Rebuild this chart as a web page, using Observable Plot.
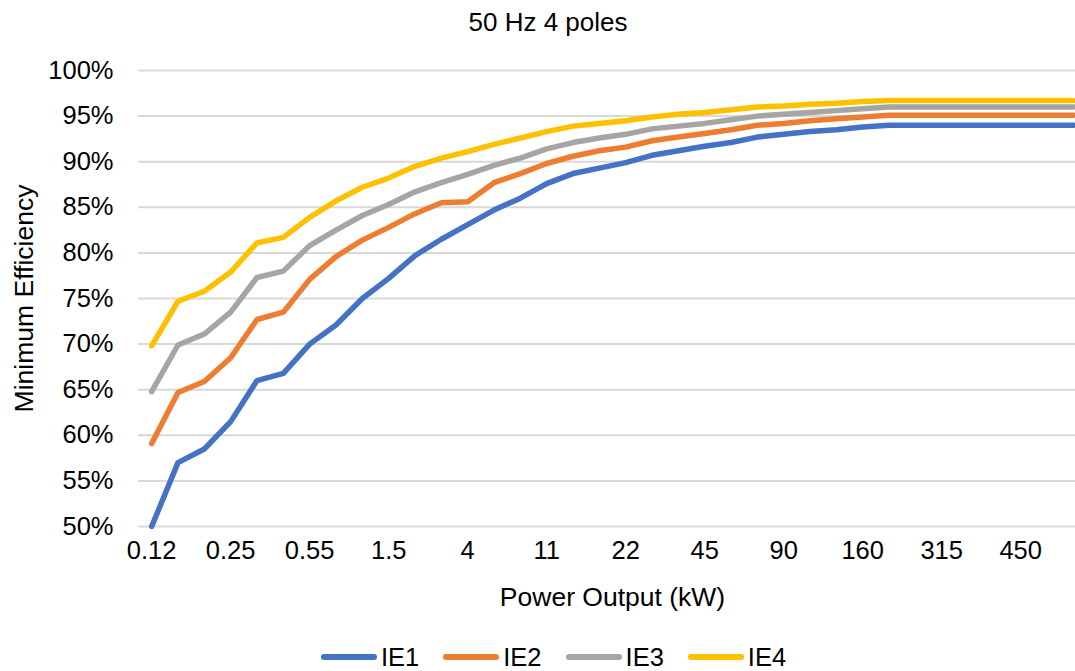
<!DOCTYPE html>
<html>
<head>
<meta charset="utf-8">
<script src="https://cdn.jsdelivr.net/npm/d3@7"></script>
<script src="https://cdn.jsdelivr.net/npm/@observablehq/plot@0.6"></script>
<style>
  html, body { margin: 0; padding: 0; background: #fff; overflow: hidden; }
  body { width: 1075px; height: 671px; position: relative; font-family: "Liberation Sans", Arial, sans-serif; color: #000; }
  #title { position: absolute; left: 0; top: 0; width: 1096px; height: 44px; line-height: 44px; text-align: center; font-size: 26px; }
  #chart { position: absolute; left: 0; top: 44px; }
  #chart g[aria-label="x-axis label"], #chart g[aria-label="y-axis label"] { font-size: 26.5px; }
  #legend { position: absolute; left: 321px; top: 642px; display: flex; align-items: center; font-size: 25.5px; line-height: 30px; }
  #legend .item { display: flex; align-items: center; margin-right: 24px; }
  #legend .sw { width: 56px; height: 5.5px; border-radius: 3px; margin-right: 4px; }
</style>
</head>
<body>
<div id="title">50 Hz 4 poles</div>
<div id="chart"></div>
<div id="legend"></div>
<script>
// Rated power classes (kW)
const powerKW = ["0.12", "0.18", "0.2", "0.25", "0.37", "0.4", "0.55", "0.75", "1.1", "1.5",
  "2.2", "3", "4", "5.5", "7.5", "11", "15", "18.5", "22", "30", "37", "45", "55", "75",
  "90", "110", "132", "160", "200", "250", "315", "355", "400", "450", "500", "1000"];

// Labelled classes on the horizontal axis
const xTickLabels = ["0.12", "0.25", "0.55", "1.5", "4", "11", "22", "45", "90", "160", "315", "450"];

// Percent ticks on the vertical axis
const yTicks = [50, 55, 60, 65, 70, 75, 80, 85, 90, 95, 100];

// Minimum efficiency (%) per class
const ie1 = [50.0, 57.0, 58.5, 61.5, 66.0, 66.8, 70.0, 72.1, 75.0, 77.2, 79.7, 81.5, 83.1, 84.7,
  86.0, 87.6, 88.7, 89.3, 89.9, 90.7, 91.2, 91.7, 92.1, 92.7, 93.0, 93.3, 93.5, 93.8,
  94.0, 94.0, 94.0, 94.0, 94.0, 94.0, 94.0, 94.0];
const ie2 = [59.1, 64.7, 65.9, 68.5, 72.7, 73.5, 77.1, 79.6, 81.4, 82.8, 84.3, 85.5, 85.6, 87.7,
  88.7, 89.8, 90.6, 91.2, 91.6, 92.3, 92.7, 93.1, 93.5, 94.0, 94.2, 94.5, 94.7, 94.9,
  95.1, 95.1, 95.1, 95.1, 95.1, 95.1, 95.1, 95.1];
const ie3 = [64.8, 69.9, 71.1, 73.5, 77.3, 78.0, 80.8, 82.5, 84.1, 85.3, 86.7, 87.7, 88.6, 89.6,
  90.4, 91.4, 92.1, 92.6, 93.0, 93.6, 93.9, 94.2, 94.6, 95.0, 95.2, 95.4, 95.6, 95.8,
  96.0, 96.0, 96.0, 96.0, 96.0, 96.0, 96.0, 96.0];
const ie4 = [69.8, 74.7, 75.8, 77.9, 81.1, 81.7, 83.9, 85.7, 87.2, 88.2, 89.5, 90.4, 91.1, 91.9,
  92.6, 93.3, 93.9, 94.2, 94.5, 94.9, 95.2, 95.4, 95.7, 96.0, 96.1, 96.3, 96.4, 96.6,
  96.7, 96.7, 96.7, 96.7, 96.7, 96.7, 96.7, 96.7];

const seriesNames = ["IE1", "IE2", "IE3", "IE4"];
const seriesValues = [ie1, ie2, ie3, ie4];
const seriesColors = ["#4472c4", "#ed7d31", "#a5a5a5", "#ffc000"];

// Long-format rows for the line mark
const rows = seriesNames.flatMap((name, s) =>
  powerKW.map((kW, i) => ({kW, value: seriesValues[s][i], series: name}))
);

const font = "'Liberation Sans', Arial, sans-serif";

const chart = Plot.plot({
  width: 1075,
  height: 576,
  marginLeft: 138,
  marginRight: -11,
  marginTop: 26,
  marginBottom: 94,
  style: {fontFamily: font, fontSize: "25.5px", color: "#000", background: "transparent", overflow: "hidden"},
  x: {type: "point", domain: powerKW, padding: 0.5, round: false},
  y: {domain: [50, 100]},
  color: {domain: seriesNames, range: seriesColors},
  marks: [
    Plot.gridY(yTicks, {stroke: "#d9d9d9", strokeOpacity: 1, strokeWidth: 2}),
    Plot.axisY(yTicks, {
      tickSize: 0, tickPadding: 25, tickFormat: d => `${d}%`,
      label: "Minimum Efficiency", labelAnchor: "center", labelOffset: 124, labelArrow: "none"
    }),
    Plot.axisX(xTickLabels, {
      tickSize: 0, tickPadding: 14,
      label: "Power Output (kW)", labelAnchor: "center", labelOffset: 79, labelArrow: "none"
    }),
    Plot.line(rows, {
      x: "kW", y: "value", stroke: "series", z: "series",
      strokeWidth: 5.5, strokeLinecap: "round", strokeLinejoin: "round"
    })
  ]
});
document.getElementById("chart").appendChild(chart);

// Legend: line swatch followed by series name
const legend = document.getElementById("legend");
seriesNames.forEach((name, i) => {
  const item = document.createElement("div");
  item.className = "item";
  const sw = document.createElement("span");
  sw.className = "sw";
  sw.style.background = seriesColors[i];
  const label = document.createElement("span");
  label.textContent = name;
  item.append(sw, label);
  legend.appendChild(item);
});
</script>
</body>
</html>
